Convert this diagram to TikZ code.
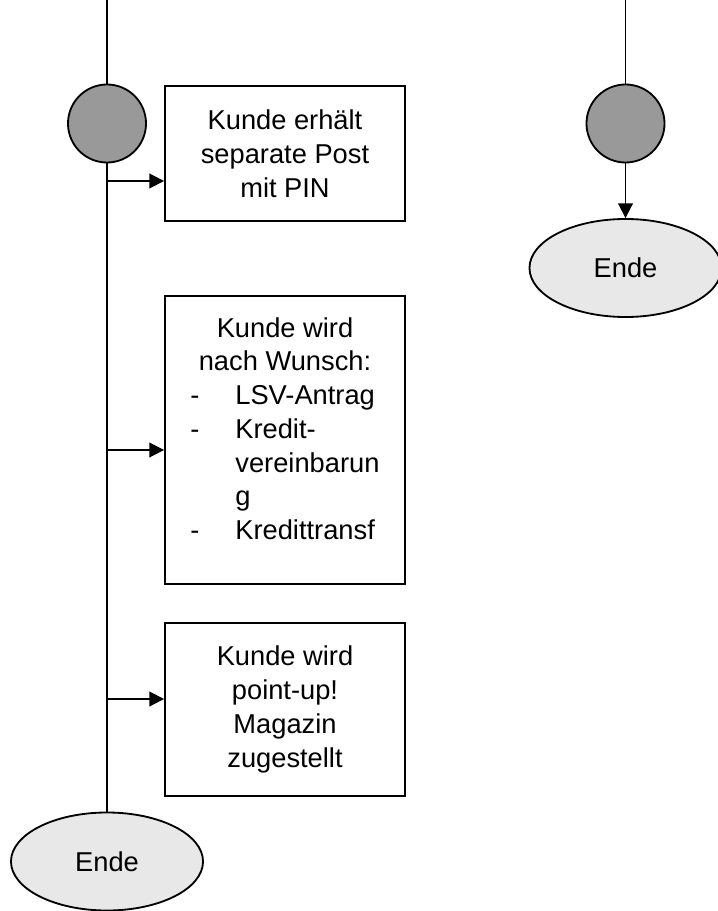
\documentclass[tikz,border=0pt]{standalone}
\usepackage{fontspec}
\setmainfont{Liberation Sans}
\usetikzlibrary{positioning, arrows.meta, shapes.geometric, calc}

\begin{document}
\begin{tikzpicture}[
  x=0.025cm, y=-0.025cm,
  every node/.style={font=\fontsize{19.4pt}{24pt}\selectfont},
  dot/.style={circle, draw, line width=1.3pt, fill=gray!80, minimum size=1.95cm, inner sep=0pt},
  ende/.style={ellipse, draw, line width=1.3pt, fill=black!9, minimum width=4.8cm, minimum height=2.45cm, inner sep=0pt},
  task/.style={rectangle, draw, line width=1.3pt, minimum width=6cm, align=center, inner sep=0pt},
  fl/.style={line width=1.3pt},
  arr/.style={-{Triangle[length=10.5pt, width=10.5pt]}, line width=1.3pt}
]
  \useasboundingbox (0,0) rectangle (717,911);

  % linker Zweig
  \coordinate (topL) at (107,0);
  \node[dot] (dotL) at (107,123.5) {};
  \node[task, minimum height=3.375cm] (box1) at (285,153.5)
    {Kunde erhält\\separate Post\\mit PIN};
  \node[task, minimum height=7.2cm] (box2) at (285,440)
    {\begin{tabular}{@{}p{1.125cm}@{}l@{}}
      \multicolumn{2}{c}{Kunde wird}\\
      \multicolumn{2}{c}{nach Wunsch:}\\
      - & LSV-Antrag\\
      - & Kredit-\\
        & vereinbarun\\
        & g\\
      - & Kredittransf\\[0.425cm]
    \end{tabular}};
  \node[task, minimum height=4.325cm] (box3) at (285,709.5)
    {Kunde wird\\point-up!\\Magazin\\zugestellt};
  \node[ende] (endL) at (107,861.5) {Ende};

  \coordinate (b1) at (107,181);
  \coordinate (b2) at (107,450);
  \coordinate (b3) at (107,699);

  \draw[fl] (topL) -- (dotL);
  \draw[fl] (dotL) -- (endL);
  \draw[arr] (b1) -- (b1 -| box1.west);
  \draw[arr] (b2) -- (b2 -| box2.west);
  \draw[arr] (b3) -- (b3 -| box3.west);

  % rechter Zweig
  \coordinate (topR) at (625.5,0);
  \node[dot] (dotR) at (625.5,123.5) {};
  \node[ende] (endR) at (625.5,268) {Ende};

  \draw[fl] (topR) -- (dotR);
  \draw[arr] (dotR) -- (endR);
\end{tikzpicture}
\end{document}
